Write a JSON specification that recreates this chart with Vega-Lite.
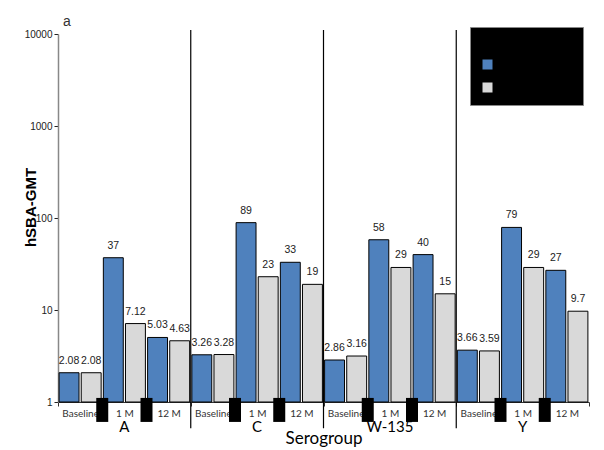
{
  "$schema": "https://vega.github.io/schema/vega-lite/v6.json",
  "autosize": {"type": "none"},
  "width": 531,
  "height": 368,
  "padding": {"left": 58, "top": 34, "right": 15, "bottom": 48},
  "background": "white",
  "title": {"text": "a", "anchor": "start", "frame": "group", "fontSize": 14, "fontWeight": "normal", "font": "Liberation Sans", "color": "#333", "offset": -2, "dx": 5},
  "config": {"view": {"stroke": null}, "font": "Liberation Sans"},
  "datasets": {
    "gmt": [
      {"serogroup": "A", "time": "Baseline", "slot": "A|Baseline", "group": "Group 1", "gmt": 2.08},
      {"serogroup": "A", "time": "Baseline", "slot": "A|Baseline", "group": "Group 2", "gmt": 2.08},
      {"serogroup": "A", "time": "1 M", "slot": "A|1 M", "group": "Group 1", "gmt": 37},
      {"serogroup": "A", "time": "1 M", "slot": "A|1 M", "group": "Group 2", "gmt": 7.12},
      {"serogroup": "A", "time": "12 M", "slot": "A|12 M", "group": "Group 1", "gmt": 5.03},
      {"serogroup": "A", "time": "12 M", "slot": "A|12 M", "group": "Group 2", "gmt": 4.63},
      {"serogroup": "C", "time": "Baseline", "slot": "C|Baseline", "group": "Group 1", "gmt": 3.26},
      {"serogroup": "C", "time": "Baseline", "slot": "C|Baseline", "group": "Group 2", "gmt": 3.28},
      {"serogroup": "C", "time": "1 M", "slot": "C|1 M", "group": "Group 1", "gmt": 89},
      {"serogroup": "C", "time": "1 M", "slot": "C|1 M", "group": "Group 2", "gmt": 23},
      {"serogroup": "C", "time": "12 M", "slot": "C|12 M", "group": "Group 1", "gmt": 33},
      {"serogroup": "C", "time": "12 M", "slot": "C|12 M", "group": "Group 2", "gmt": 19},
      {"serogroup": "W-135", "time": "Baseline", "slot": "W-135|Baseline", "group": "Group 1", "gmt": 2.86},
      {"serogroup": "W-135", "time": "Baseline", "slot": "W-135|Baseline", "group": "Group 2", "gmt": 3.16},
      {"serogroup": "W-135", "time": "1 M", "slot": "W-135|1 M", "group": "Group 1", "gmt": 58},
      {"serogroup": "W-135", "time": "1 M", "slot": "W-135|1 M", "group": "Group 2", "gmt": 29},
      {"serogroup": "W-135", "time": "12 M", "slot": "W-135|12 M", "group": "Group 1", "gmt": 40},
      {"serogroup": "W-135", "time": "12 M", "slot": "W-135|12 M", "group": "Group 2", "gmt": 15},
      {"serogroup": "Y", "time": "Baseline", "slot": "Y|Baseline", "group": "Group 1", "gmt": 3.66},
      {"serogroup": "Y", "time": "Baseline", "slot": "Y|Baseline", "group": "Group 2", "gmt": 3.59},
      {"serogroup": "Y", "time": "1 M", "slot": "Y|1 M", "group": "Group 1", "gmt": 79},
      {"serogroup": "Y", "time": "1 M", "slot": "Y|1 M", "group": "Group 2", "gmt": 29},
      {"serogroup": "Y", "time": "12 M", "slot": "Y|12 M", "group": "Group 1", "gmt": 27},
      {"serogroup": "Y", "time": "12 M", "slot": "Y|12 M", "group": "Group 2", "gmt": 9.7}
    ],
    "groups": [
      {"serogroup": "A", "slot": "A|1 M"},
      {"serogroup": "C", "slot": "C|1 M"},
      {"serogroup": "W-135", "slot": "W-135|1 M"},
      {"serogroup": "Y", "slot": "Y|1 M"}
    ],
    "dividers": [
      {"slot": "A|12 M"},
      {"slot": "C|12 M"},
      {"slot": "W-135|12 M"}
    ],
    "blocks": [
      {"slot": "A|Baseline"}, {"slot": "A|1 M"},
      {"slot": "C|Baseline"}, {"slot": "C|1 M"},
      {"slot": "W-135|Baseline"}, {"slot": "W-135|1 M"},
      {"slot": "Y|Baseline"}, {"slot": "Y|1 M"}
    ]
  },
  "layer": [
    {
      "data": {"name": "gmt"},
      "mark": {"type": "bar", "stroke": "black", "strokeWidth": 1},
      "encoding": {
        "x": {
          "field": "slot", "type": "nominal", "sort": null,
          "scale": {"domain": ["A|Baseline", "A|1 M", "A|12 M", "C|Baseline", "C|1 M", "C|12 M", "W-135|Baseline", "W-135|1 M", "W-135|12 M", "Y|Baseline", "Y|1 M", "Y|12 M"], "paddingInner": 0, "paddingOuter": 0},
          "axis": {
            "title": "Serogroup", "labelExpr": "split(datum.value, '|')[1]", "labelAngle": 0,
            "labelFont": "Lato", "labelFontSize": 10, "labelColor": "#333", "labelPadding": 2,
            "tickBand": "extent", "tickSize": 4, "tickColor": "#333", "domainColor": "#333", "domainWidth": 1,
            "titleFont": "Lato", "titleFontSize": 17, "titleFontWeight": "normal", "titleColor": "black",
            "titleY": 36, "titleBaseline": "middle", "grid": false
          }
        },
        "xOffset": {"field": "group", "type": "nominal", "scale": {"paddingInner": 0.1, "paddingOuter": 0.05}},
        "y": {
          "field": "gmt", "type": "quantitative",
          "scale": {"type": "log", "domain": [1, 10000], "nice": false},
          "axis": {
            "title": "hSBA-GMT", "values": [1, 10, 100, 1000, 10000], "format": "d", "grid": false,
            "labelFontSize": 10, "labelColor": "#222", "labelPadding": 2, "tickSize": 4, "tickColor": "#222",
            "domainColor": "#888", "domainWidth": 1.5,
            "titleFontSize": 15, "titleFontWeight": "bold", "titleColor": "black",
            "titleX": -28, "titleY": 173, "titleAngle": -90, "titleAlign": "center", "titleBaseline": "middle"
          }
        },
        "y2": {"datum": 1},
        "color": {
          "field": "group", "type": "nominal",
          "scale": {"range": ["#4F81BD", "#D9D9D9"]},
          "legend": {
            "orient": "none", "legendX": 412, "legendY": -7, "fillColor": "black", "strokeColor": "#888",
            "padding": 12, "title": "Vaccine groups", "titleColor": "black", "titleFontSize": 12, "titlePadding": 8,
            "labelColor": "black", "labelFontSize": 11, "symbolType": "square", "symbolSize": 100,
            "symbolStrokeWidth": 0, "rowPadding": 11, "labelOffset": 6
          }
        }
      }
    },
    {
      "data": {"name": "gmt"},
      "mark": {"type": "text", "dy": -7, "fontSize": 10.5, "color": "#222", "baseline": "bottom"},
      "encoding": {
        "x": {"field": "slot", "type": "nominal", "sort": null},
        "xOffset": {"field": "group", "type": "nominal"},
        "y": {"field": "gmt", "type": "quantitative"},
        "text": {"field": "gmt", "type": "quantitative"}
      }
    },
    {
      "data": {"name": "groups"},
      "mark": {"type": "text", "dy": 25, "fontSize": 15, "font": "Lato", "color": "black", "baseline": "middle"},
      "encoding": {
        "x": {"field": "slot", "type": "nominal", "sort": null},
        "y": {"datum": 1},
        "text": {"field": "serogroup"}
      }
    },
    {
      "data": {"name": "dividers"},
      "mark": {"type": "rule", "color": "black", "strokeWidth": 1.2},
      "encoding": {
        "x": {"field": "slot", "type": "nominal", "sort": null, "bandPosition": 1},
        "y": {"datum": 11050},
        "y2": {"datum": 0.52}
      }
    },
    {
      "data": {"name": "blocks"},
      "mark": {"type": "point", "filled": true, "color": "black", "opacity": 1, "size": 576, "shape": "M-0.5,-1H0.5V1H-0.5Z"},
      "encoding": {
        "x": {"field": "slot", "type": "nominal", "sort": null, "bandPosition": 1},
        "y": {"datum": 0.82}
      }
    }
  ]
}
